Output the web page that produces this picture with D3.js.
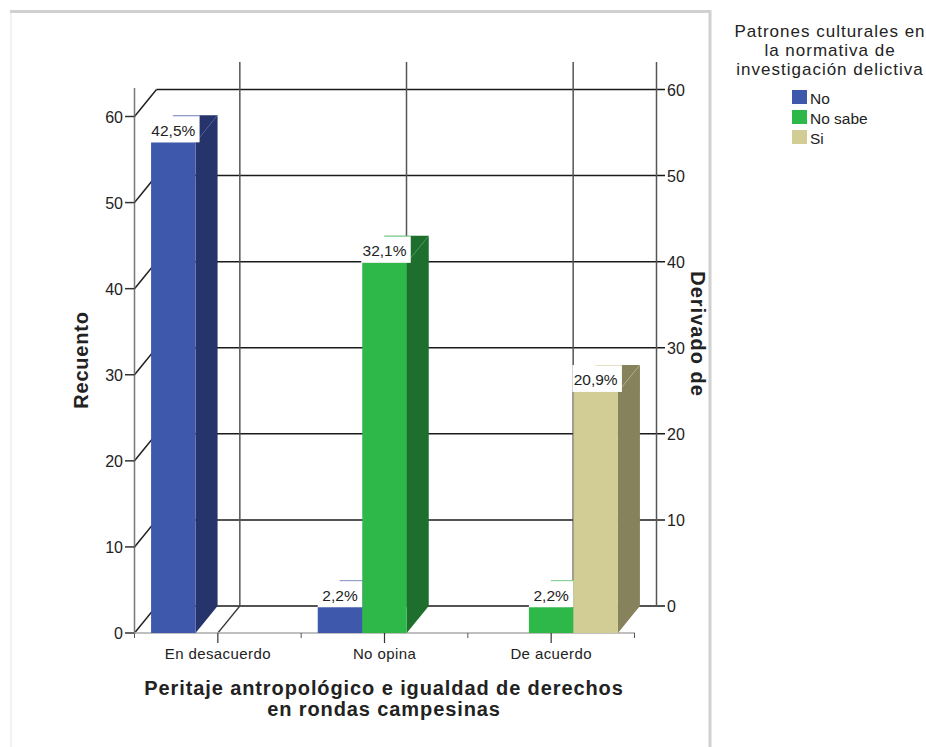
<!DOCTYPE html>
<html><head><meta charset="utf-8">
<script src="https://cdn.jsdelivr.net/npm/d3@7"></script>
<style>html,body{margin:0;padding:0;background:#fff;overflow:hidden}svg{display:block}
text{font-family:"Liberation Sans",Arial,sans-serif;fill:#222}</style></head>
<body><svg id="c" width="926" height="747"></svg>
<script>
const categories = ["En desacuerdo","No opina","De acuerdo"];
const seriesNames = ["No","No sabe","Si"];
const seriesNo = [57,3,0];
const seriesNoSabe = [0,43,3];
const seriesSi = [0,0,28];
const pctNo = ["42,5%","2,2%",null];
const pctNoSabe = [null,"32,1%","2,2%"];
const pctSi = [null,null,"20,9%"];
const yTicks = [0,10,20,30,40,50,60];
const frontColors = ["#3e58ac","#2fb84a","#d2cc95"];
const sideColors = ["#26346b","#1e6f2e","#85825c"];
const legendTitle = ["Patrones culturales en","la normativa de","investigación delictiva"];
const xTitle = ["Peritaje antropológico e igualdad de derechos","en rondas campesinas"];

const series = [seriesNo,seriesNoSabe,seriesSi];
const pcts = [pctNo,pctNoSabe,pctSi];
const svg = d3.select("#c");
const DX = 22, DY = -27;
const x = d3.scaleBand().domain(categories).range([134.5,634.5]);
const xs = d3.scaleBand().domain(seriesNames).range([-66.75,66.75]);
const y = d3.scaleLinear().domain([0,60]).range([633,116.5]);

// frame
svg.append("line").attr("x1",11).attr("y1",12).attr("x2",11).attr("y2",747).attr("stroke","#f2f2f2").attr("stroke-width",2);
svg.append("path").attr("d","M10,11.5H710V747").attr("fill","none").attr("stroke","#d0d0d0").attr("stroke-width",3);

const grid = svg.append("g");
yTicks.forEach(t=>{
  const py=y(t)+DY;
  grid.append("line").attr("x1",134.5).attr("y1",y(t)).attr("x2",134.5+DX).attr("y2",py).attr("stroke","#222").attr("stroke-width",1.5);
  grid.append("line").attr("x1",134.5+DX).attr("y1",py).attr("x2",665).attr("y2",py).attr("stroke","#1a1a1a").attr("stroke-width",1.5);
  svg.append("text").attr("x",667).attr("y",py+6).attr("font-size",16).text(t);
});
categories.forEach(c=>{
  const v=x(c)+x.bandwidth()/2;
  grid.append("line").attr("x1",v+DX).attr("y1",62).attr("x2",v+DX).attr("y2",y(0)+DY).attr("stroke","#555").attr("stroke-width",1.5);
  grid.append("line").attr("x1",v).attr("y1",y(0)).attr("x2",v+DX).attr("y2",y(0)+DY).attr("stroke","#333").attr("stroke-width",1.2);
});
grid.append("line").attr("x1",656.5).attr("y1",62).attr("x2",656.5).attr("y2",y(0)+DY).attr("stroke","#555").attr("stroke-width",1.5);
grid.append("line").attr("x1",134.5).attr("y1",88).attr("x2",134.5).attr("y2",633).attr("stroke","#777").attr("stroke-width",1.5);

yTicks.forEach(t=>{
  svg.append("line").attr("x1",125).attr("y1",y(t)).attr("x2",134.5).attr("y2",y(t)).attr("stroke","#333").attr("stroke-width",1.5);
  svg.append("text").attr("x",123).attr("y",y(t)+6).attr("text-anchor","end").attr("font-size",16).text(t);
});
svg.append("line").attr("x1",134).attr("y1",633).attr("x2",635).attr("y2",633).attr("stroke","#aaa").attr("stroke-width",1.5);
categories.forEach(c=>{
  const cx=x(c)+x.bandwidth()/2;
  svg.append("line").attr("x1",cx).attr("y1",633).attr("x2",cx).attr("y2",643).attr("stroke","#333").attr("stroke-width",1.2);
  svg.append("line").attr("x1",x(c)).attr("y1",633).attr("x2",x(c)).attr("y2",638).attr("stroke","#555");
  svg.append("text").attr("x",cx).attr("y",659).attr("text-anchor","middle").attr("font-size",15).attr("letter-spacing",0.4).text(c);
});
svg.append("line").attr("x1",634.5).attr("y1",633).attr("x2",634.5).attr("y2",638).attr("stroke","#555");

// bars
const labels = [];
categories.forEach((c,ci)=>{
  const cx=x(c)+x.bandwidth()/2;
  seriesNames.forEach((s,si)=>{
    const v=series[si][ci];
    if(!v) return;
    const x0=cx+xs(s), w=xs.bandwidth(), top=y(v), base=y(0);
    svg.append("polygon").attr("points",[[x0+w,top],[x0+w+DX,top+DY],[x0+w+DX,base+DY],[x0+w,base]].join(" ")).attr("fill",sideColors[si]);
    svg.append("polygon").attr("points",[[x0,top],[x0+DX,top+DY],[x0+w+DX,top+DY],[x0+w,top]].join(" ")).attr("fill",sideColors[si]);
    svg.append("line").attr("x1",x0+w).attr("y1",top).attr("x2",x0+w+DX).attr("y2",top+DY).attr("stroke",frontColors[si]).attr("stroke-opacity",0.35);
    svg.append("rect").attr("x",x0).attr("y",top).attr("width",w).attr("height",base-top).attr("fill",frontColors[si]);
    labels.push({x0,w,top,si,v,txt:pcts[si][ci]});
  });
});
labels.forEach(l=>{
  const tall = l.v>=10;
  const bx = tall ? l.x0-1 : l.x0;
  const bw = tall ? l.w+5 : l.w;
  svg.append("rect").attr("x",bx).attr("y",l.top+DY).attr("width",bw).attr("height",-DY).attr("fill","#fff");
  svg.append("line").attr("x1",l.x0+DX).attr("y1",l.top+DY+0.5).attr("x2",bx+bw).attr("y2",l.top+DY+0.5).attr("stroke",frontColors[l.si]).attr("stroke-opacity",0.6);
  svg.append("text").attr("x",l.x0+l.w/2).attr("y",l.top-6.5).attr("text-anchor","middle").attr("font-size",15.5).text(l.txt);
});

// titles
svg.append("text").attr("transform","translate(88,360) rotate(-90)").attr("text-anchor","middle").attr("font-size",20).attr("font-weight","bold").attr("letter-spacing",0.8).attr("fill","#111").text("Recuento");
svg.append("text").attr("transform","translate(691,334) rotate(90)").attr("text-anchor","middle").attr("font-size",20).attr("font-weight","bold").attr("letter-spacing",1).attr("fill","#111").text("Derivado de");
xTitle.forEach((t,i)=>svg.append("text").attr("x",384).attr("y",695+i*21).attr("text-anchor","middle").attr("font-size",20).attr("font-weight","bold").attr("letter-spacing",0.9).text(t));

// legend
legendTitle.forEach((t,i)=>svg.append("text").attr("x",830).attr("y",37+i*19).attr("text-anchor","middle").attr("font-size",17).attr("letter-spacing",1).text(t));
seriesNames.forEach((s,i)=>{
  svg.append("rect").attr("x",792).attr("y",90+i*20).attr("width",15).attr("height",14).attr("fill",frontColors[i]);
  svg.append("text").attr("x",810).attr("y",104+i*20).attr("font-size",15.5).text(s);
});
</script></body></html>
